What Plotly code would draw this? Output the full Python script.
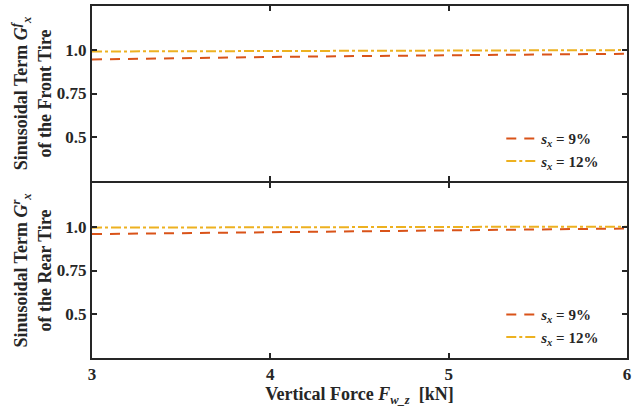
import plotly.graph_objects as go
from plotly.subplots import make_subplots

# Vertical force on the wheel [kN]
force_kn = [3.0, 3.5, 4.0, 4.5, 5.0, 5.5, 6.0]

# Sinusoidal term of the front tire
front_s9 = [0.945, 0.953, 0.959, 0.964, 0.969, 0.973, 0.977]
front_s12 = [0.990, 0.991, 0.993, 0.994, 0.995, 0.997, 0.998]

# Sinusoidal term of the rear tire
rear_s9 = [0.958, 0.964, 0.970, 0.976, 0.981, 0.986, 0.990]
rear_s12 = [0.995, 0.997, 0.998, 0.999, 0.999, 1.000, 1.000]

y_ticks = [0.5, 0.75, 1.0]
y_tick_text = ["0.5", "0.75", "1.0"]
x_ticks = [3, 4, 5, 6]

RED = "#D95319"
YELLOW = "#EDB120"
FRAME = "#262626"
FONT = "Liberation Serif"

# a 2 px gap lets the two shared frame lines fall on top of each other
fig = make_subplots(rows=2, cols=1, shared_xaxes=True, vertical_spacing=2 / 352)

series = [
    (1, front_s9, RED, "10px,8px", "<i>s</i><sub><i>x</i></sub> = 9%", "legend"),
    (1, front_s12, YELLOW, "10px,3px,3px,3px", "<i>s</i><sub><i>x</i></sub> = 12%", "legend"),
    (2, rear_s9, RED, "10px,8px", "<i>s</i><sub><i>x</i></sub> = 9%", "legend2"),
    (2, rear_s12, YELLOW, "10px,3px,3px,3px", "<i>s</i><sub><i>x</i></sub> = 12%", "legend2"),
]
for row, vals, color, dash, name, leg in series:
    fig.add_trace(
        go.Scatter(
            x=force_kn, y=vals, mode="lines", name=name, legend=leg,
            line=dict(color=color, width=2, dash=dash),
        ),
        row=row, col=1,
    )

axis_style = dict(
    showline=True, linecolor=FRAME, linewidth=2, mirror="ticks",
    ticks="inside", ticklen=5, tickwidth=2, tickcolor=FRAME,
    showgrid=False, zeroline=False,
    tickfont=dict(family=FONT, size=17, color=FRAME, weight="bold"),
)
title_font = dict(family=FONT, size=18, color=FRAME)

fig.update_xaxes(range=[3, 6], tickvals=x_ticks, **axis_style)
fig.update_xaxes(showticklabels=False, row=1, col=1)
fig.update_xaxes(
    title=dict(
        text="<b>Vertical Force <i>F</i><sub><i>w_z</i></sub>  [kN]</b>",
        font=title_font, standoff=4,
    ),
    row=2, col=1,
)
fig.update_yaxes(range=[0.25, 1.25], tickvals=y_ticks, ticktext=y_tick_text, **axis_style)
fig.update_yaxes(
    title=dict(
        text="<b>Sinusoidal Term <i>G</i><sup><i>f</i></sup><sub><i>x</i></sub><br>of the Front Tire</b>",
        font=title_font, standoff=1,
    ),
    row=1, col=1,
)
fig.update_yaxes(
    title=dict(
        text="<b>Sinusoidal Term <i>G</i><sup><i>r</i></sup><sub><i>x</i></sub><br>of the Rear Tire</b>",
        font=title_font, standoff=1,
    ),
    row=2, col=1,
)

legend_style = dict(
    xanchor="left", yanchor="top", bgcolor="rgba(0,0,0,0)",
    font=dict(family=FONT, size=15, color=FRAME, weight="bold"),
    tracegroupgap=0, itemwidth=30,
)

fig.update_layout(
    width=634, height=407,
    margin=dict(l=92, r=3, t=6, b=49),
    paper_bgcolor="white", plot_bgcolor="white",
    showlegend=True,
    legend=dict(x=0.765, y=0.67, **legend_style),
    legend2=dict(x=0.765, y=0.17, **legend_style),
)

fig.write_html("out.html")
